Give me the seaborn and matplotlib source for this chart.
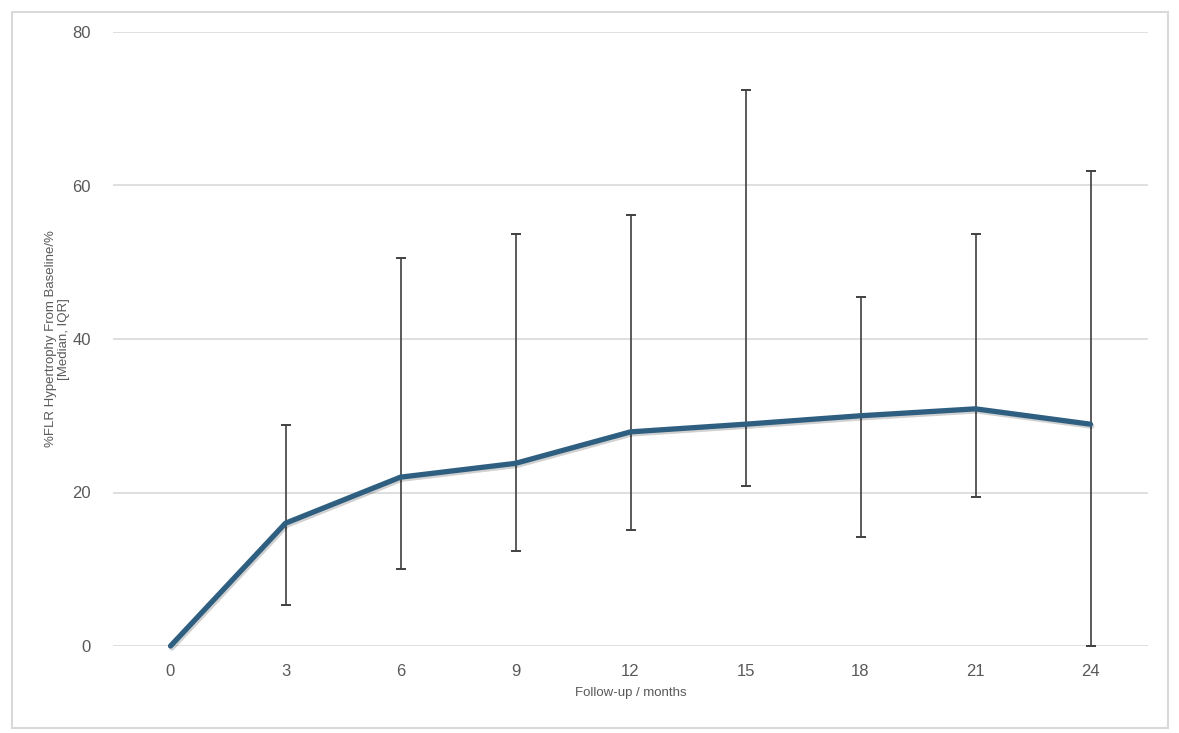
import pandas as pd
import matplotlib.pyplot as plt
import matplotlib.patheffects as pe
import seaborn as sns

# ==========================================
# FLR HYPERTROPHY OVER FOLLOW-UP
# ==========================================

months = ["0", "3", "6", "9", "12", "15", "18", "21", "24"]
median = [0.0, 16.0, 22.0, 23.8, 27.9, 28.9, 30.0, 30.9, 28.9]
q1 = [0.0, 5.3, 10.0, 12.4, 15.1, 20.8, 14.2, 19.4, 0.0]
q3 = [0.0, 28.8, 50.6, 53.7, 56.2, 72.4, 45.5, 53.7, 61.9]

df = pd.DataFrame({"month": months, "median": median, "q1": q1, "q3": q3})

sns.set_style("white")
plt.rcParams['font.family'] = ['Liberation Sans', 'DejaVu Sans']

fig = plt.figure(figsize=(11.79, 7.33), dpi=100)
ax = fig.add_axes([113 / 1179, 1 - 646 / 733, 1035 / 1179, 614 / 733])

# median line first so the categories keep their order
sns.lineplot(
    data=df, x="month", y="median", sort=False, ax=ax,
    color="#2f5f80", linewidth=3.8, zorder=3, clip_on=False,
    path_effects=[pe.SimpleLineShadow(offset=(1, -1.5), alpha=0.18), pe.Normal()]
)

# IQR error bars (no bar at baseline)
err = df.iloc[1:]
ax.errorbar(
    err["month"], err["median"],
    yerr=[err["median"] - err["q1"], err["q3"] - err["median"]],
    fmt="none", ecolor="#404040", elinewidth=1.2, capsize=3.5, capthick=1.4,
    zorder=2
)

ax.set_xlim(-0.5, 8.5)
ax.set_ylim(0, 80)
ax.set_yticks([0, 20, 40, 60, 80])
ax.grid(axis="y", color="#d9d9d9", linewidth=1.2)
ax.grid(axis="x", visible=False)
for s in ax.spines.values():
    s.set_visible(False)
ax.tick_params(length=0, labelsize=12, labelcolor="#595959")
ax.tick_params(axis="y", pad=16)
ax.tick_params(axis="x", pad=13)

ax.set_xlabel("Follow-up / months", fontsize=9.5, color="#595959")
ax.xaxis.set_label_coords(0.5, -0.066)
ax.set_ylabel("%FLR Hypertrophy From Baseline/%\n[Median, IQR]",
              fontsize=9.5, color="#595959", linespacing=1.1)
ax.yaxis.set_label_coords(-0.042, 0.5)

# outer chart border
fig.add_artist(plt.Rectangle((12 / 1179, 5 / 733), 1156 / 1179, 716 / 733,
                             transform=fig.transFigure, fill=False,
                             edgecolor="#d9d9d9", linewidth=1.5))

fig.savefig("out.png", dpi=100)
